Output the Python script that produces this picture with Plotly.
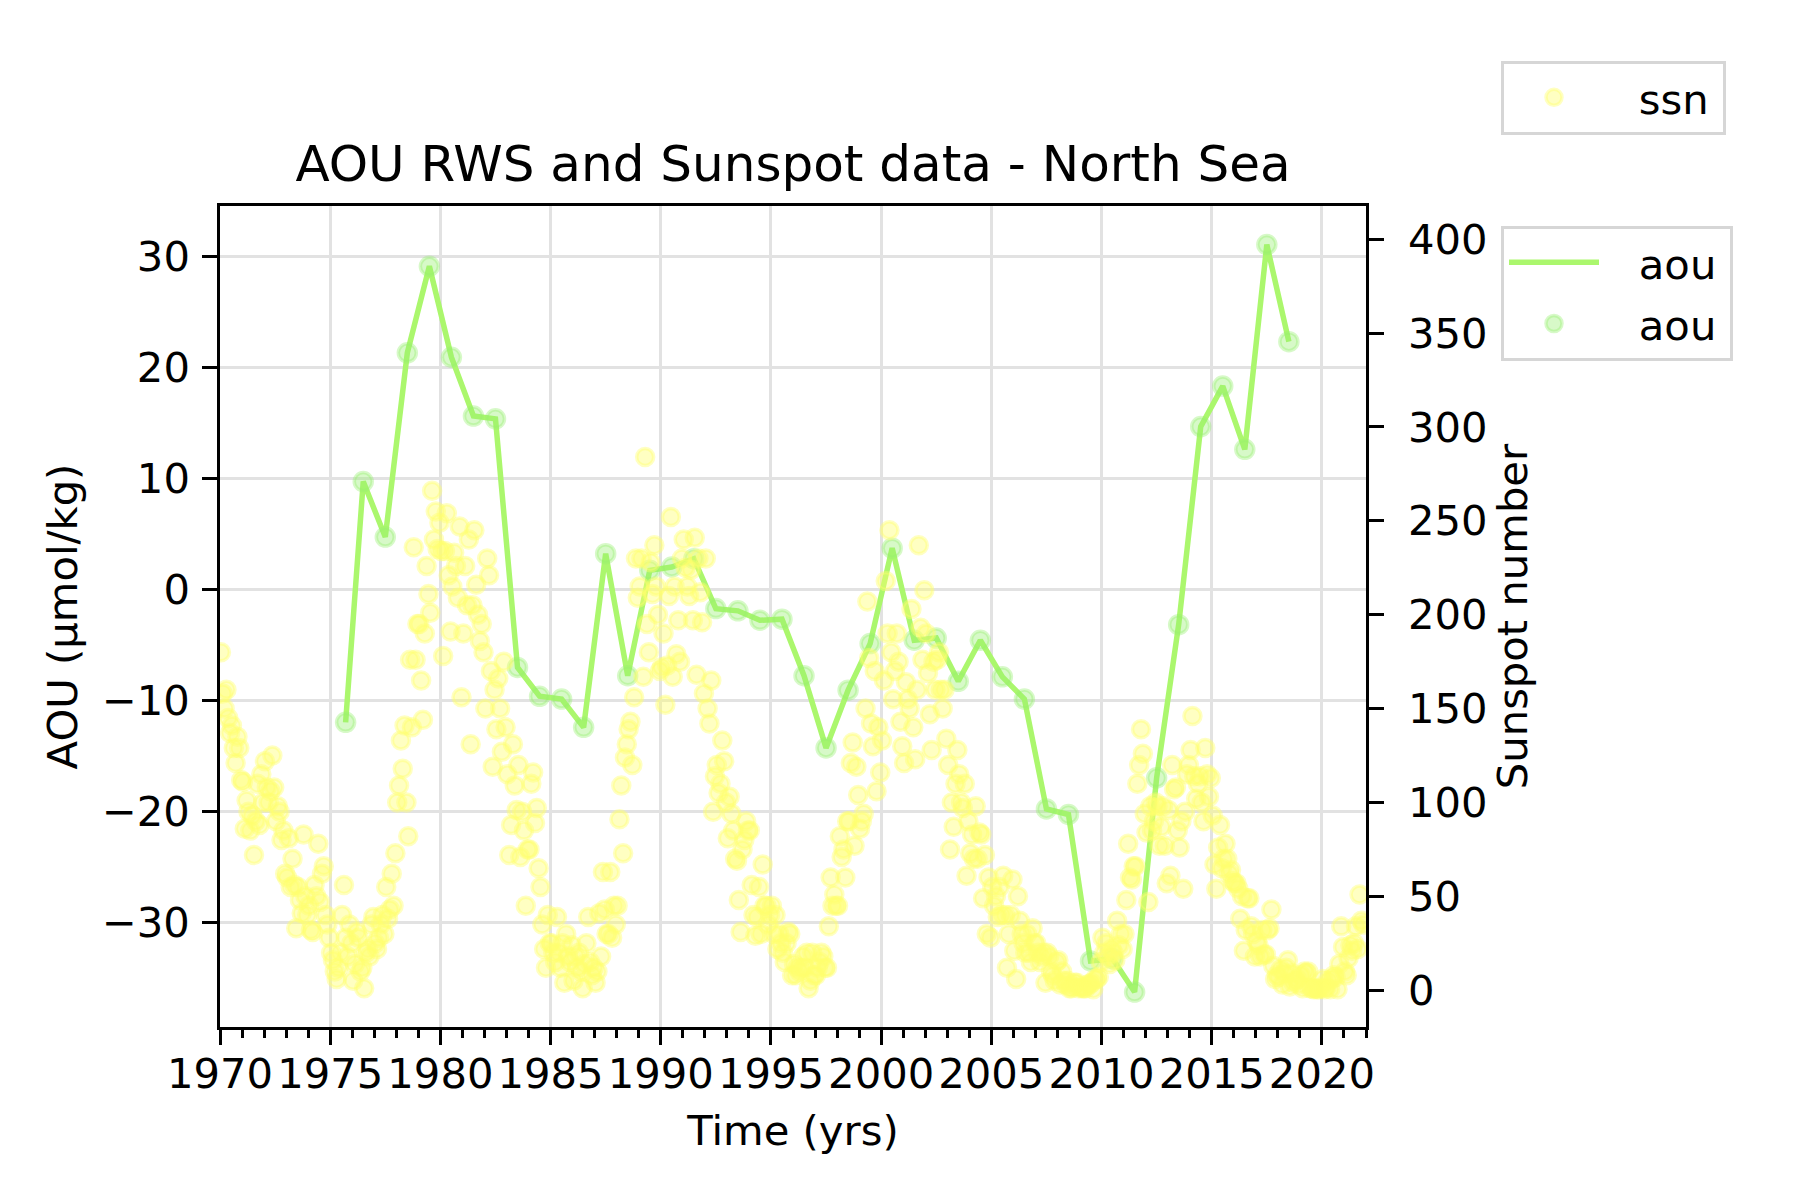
import numpy as np
import plotly.graph_objects as go

# ---------------- data ----------------
aou_years = [1975.7, 1976.5, 1977.5, 1978.5, 1979.5, 1980.5, 1981.5, 1982.5, 1983.5, 1984.5,
             1985.5, 1986.5, 1987.5, 1988.5, 1989.5, 1990.5, 1991.5, 1992.5, 1993.5, 1994.5,
             1995.5, 1996.5, 1997.5, 1998.5, 1999.5, 2000.5, 2001.5, 2002.5, 2003.5, 2004.5,
             2005.5, 2006.5, 2007.5, 2008.5, 2009.5, 2010.5, 2011.5, 2012.5, 2013.5, 2014.5,
             2015.5, 2016.5, 2017.5, 2018.5]
aou_values = [-12.0, 9.7, 4.7, 21.3, 29.1, 20.9, 15.6, 15.35, -7.05, -9.65,
              -9.9, -12.45, 3.2, -7.8, 1.7, 2.0, 2.75, -1.75, -1.95, -2.8,
              -2.7, -7.8, -14.3, -9.1, -4.9, 3.7, -4.6, -4.4, -8.3, -4.6,
              -7.9, -9.9, -19.8, -20.3, -33.5, -33.3, -36.3, -17.0, -3.2, 14.65,
              18.3, 12.6, 31.05, 22.3]

# monthly sunspot number, starting January 1970
ssn_start_year = 1970
ssn_monthly = [
    180, 158, 150, 160, 145, 137, 141, 129, 121, 135, 129, 112,   # 1970
    111, 86, 101, 95, 85, 93, 72, 90, 110, 88, 115, 100,          # 1971
    122, 108, 100, 106, 125, 108, 90, 98, 95, 80, 85, 62,         # 1972
    60, 81, 55, 70, 56, 33, 55, 48, 41, 83, 50, 40,               # 1973
    45, 32, 31, 56, 50, 78, 47, 62, 66, 40, 35, 28,               # 1974
    20, 16, 10, 6, 12, 20, 40, 56, 28, 18, 35, 25,                # 1975
    5, 14, 31, 28, 10, 12, 1, 20, 22, 18, 35, 39,                 # 1976
    25, 22, 28, 35, 40, 30, 55, 38, 43, 62, 45, 73,               # 1977
    100, 109, 133, 118, 141, 100, 82, 176, 140, 236, 176, 195,    # 1978
    195, 165, 144, 190, 226, 211, 201, 266, 240, 255, 235, 249,   # 1979
    234, 178, 234, 254, 221, 191, 215, 233, 226, 209, 247, 156,   # 1980
    190, 226, 205, 240, 131, 205, 245, 216, 200, 186, 195, 180,   # 1981
    150, 230, 221, 170, 119, 160, 139, 166, 150, 127, 175, 140,   # 1982
    115, 72, 88, 131, 109, 96, 120, 71, 95, 85, 45, 75,           # 1983
    75, 110, 116, 89, 97, 65, 55, 35, 22, 12, 40, 25,             # 1984
    25, 20, 15, 39, 20, 12, 25, 4, 30, 18, 15, 24,                # 1985
    5, 18, 12, 20, 10, 1, 14, 25, 39, 15, 8, 12,                  # 1986
    4, 10, 41, 18, 63, 43, 30, 30, 63, 28, 45, 35,                # 1987
    45, 91, 109, 73, 124, 131, 139, 143, 120, 156, 230, 209,      # 1988
    215, 230, 167, 284, 195, 180, 228, 211, 237, 215, 200, 170,   # 1989
    172, 190, 152, 173, 210, 252, 167, 215, 179, 197, 175, 230,   # 1990
    240, 225, 215, 210, 224, 197, 241, 168, 230, 212, 196, 158,   # 1991
    230, 150, 142, 165, 95, 114, 120, 105, 110, 133, 122, 100,    # 1992
    81, 103, 94, 85, 70, 69, 48, 31, 75, 80, 90, 85,              # 1993
    85, 56, 40, 29, 39, 55, 30, 67, 45, 45, 35, 40,               # 1994
    45, 30, 40, 22, 30, 25, 20, 15, 25, 31, 30, 8,                # 1995
    14, 8, 12, 10, 12, 18, 12, 20, 1, 5, 20, 8,                   # 1996
    8, 12, 15, 20, 18, 12, 12, 34, 60, 45, 51, 45,                # 1997
    45, 82, 71, 75, 60, 90, 90, 121, 132, 77, 119, 104,           # 1998
    86, 90, 94, 150, 207, 177, 142, 130, 170, 106, 140, 116,      # 1999
    133, 165, 218, 190, 245, 180, 155, 170, 190, 175, 143, 130,   # 2000
    121, 164, 155, 150, 203, 140, 123, 160, 237, 193, 176, 213,   # 2001
    190, 169, 147, 128, 175, 160, 176, 180, 160, 150, 160, 134,   # 2002
    120, 75, 100, 87, 110, 128, 115, 100, 97, 110, 61, 90,        # 2003
    73, 83, 70, 98, 70, 84, 83, 49, 72, 30, 60, 28,               # 2004
    55, 45, 50, 39, 55, 40, 61, 40, 12, 30, 40, 59,               # 2005
    21, 6, 50, 37, 30, 25, 20, 30, 20, 15, 33, 25,                # 2006
    25, 20, 15, 18, 20, 4, 20, 18, 10, 8, 5, 15,                  # 2007
    16, 3, 10, 5, 3, 5, 1, 1, 2, 4, 4, 1,                         # 2008
    2, 1, 1, 1, 3, 3, 4, 0.5, 6, 6, 7, 15,                        # 2009
    28, 20, 25, 18, 14, 22, 20, 16, 37, 24, 30, 22,               # 2010
    30, 48, 78, 60, 59, 66, 66, 110, 120, 139, 126, 94,           # 2011
    84, 47, 98, 85, 90, 100, 98, 77, 87, 98, 77, 57,              # 2012
    96, 61, 120, 107, 108, 85, 76, 90, 54, 95, 115, 120,          # 2013
    128, 146, 114, 102, 110, 114, 100, 90, 129, 115, 103, 113,    # 2014
    93, 67, 54, 76, 88, 65, 70, 78, 70, 62, 64, 58,               # 2015
    57, 57, 54, 38, 50, 21, 32, 49, 49, 34, 30, 18,               # 2016
    26, 24, 18, 32, 19, 19, 32, 33, 43, 13, 6, 8,                 # 2017
    7, 11, 3, 9, 12, 16, 2, 9, 4, 5, 6, 3,                        # 2018
    8, 1, 10, 9, 10, 1, 1, 0.5, 1, 0.5, 0.5, 1.5,                 # 2019
    6, 0.5, 1.5, 5, 0.5, 6, 8, 7, 0.5, 14, 34, 23,                # 2020
    10, 8, 17, 24, 21, 25, 34, 22, 51, 37, 35,                    # 2021
]
ssn_dates = ssn_start_year + (np.arange(len(ssn_monthly)) + 0.5) / 12.0

x_ticks = [1970, 1975, 1980, 1985, 1990, 1995, 2000, 2005, 2010, 2015, 2020]
aou_ticks = [-30, -20, -10, 0, 10, 20, 30]
ssn_ticks = [0, 50, 100, 150, 200, 250, 300, 350, 400]

# ---------------- style ----------------
FONT = "DejaVu Sans"
FS = 41.7
LINE_GREEN = "#abf76d"
GREEN_A = "rgba(150,240,110,0.38)"
YELLOW_A = "rgba(255,255,110,0.42)"
AXW = 3.3
TICKLEN = 14.6
NB = "\u00a0\u00a0\u2009"
NE = "\u2009"

fig = go.Figure()
fig.add_trace(go.Scatter(x=aou_years, y=aou_values, mode="lines", name=NB + "aou" + NE,
                         line=dict(color=LINE_GREEN, width=5.5), showlegend=True,
                         legend="legend2", legendgroup="aline"))
fig.add_trace(go.Scatter(x=aou_years, y=aou_values, mode="markers", name=NB + "aou" + NE,
                         marker=dict(size=18, color=GREEN_A, line=dict(color=GREEN_A, width=3.5)),
                         showlegend=True, legend="legend2", legendgroup="amark"))
fig.add_trace(go.Scatter(x=ssn_dates, y=ssn_monthly, mode="markers", name=NB + "ssn" + NE, yaxis="y2",
                         marker=dict(size=17, color=YELLOW_A, line=dict(color=YELLOW_A, width=3.5)),
                         showlegend=True, legend="legend"))

axis_common = dict(
    showline=True, linecolor="black", linewidth=AXW,
    ticks="outside", ticklen=TICKLEN, tickwidth=AXW, tickcolor="black",
    tickfont=dict(family=FONT, size=FS, color="black"),
    zeroline=False,
)

fig.update_layout(
    width=1800, height=1200,
    showlegend=True,
    paper_bgcolor="white", plot_bgcolor="white",
    margin=dict(l=220, r=433.5, t=205.5, b=172.5, autoexpand=False),
    font=dict(family=FONT, size=FS, color="black"),
    title=dict(text="AOU RWS and Sunspot data - North Sea",
               font=dict(family=FONT, size=50, color="black"),
               x=0.5, xref="paper", xanchor="center",
               y=1, yref="paper", yanchor="bottom", pad=dict(b=25)),
    xaxis=dict(range=[1970, 2022], tickvals=x_ticks, ticktext=[str(t) for t in x_ticks],
               mirror=True, showgrid=True, gridcolor="#e2e2e2", gridwidth=2.5,
               minor=dict(dtick=1, tick0=1970, ticks="outside", ticklen=8.3, tickwidth=2.5,
                          tickcolor="black", showgrid=False),
               ticklabelstandoff=-7,
               title=dict(text="Time (yrs)", font=dict(family=FONT, size=FS), standoff=20),
               **axis_common),
    yaxis=dict(range=[-39.45, 34.53], tickvals=aou_ticks, showgrid=True,
               gridcolor="#e2e2e2", gridwidth=2.5, ticklabelstandoff=4,
               title=dict(text="AOU (µmol/kg)", font=dict(family=FONT, size=FS), standoff=12),
               **axis_common),
    yaxis2=dict(range=[-19.6, 417.7], tickvals=ssn_ticks, overlaying="y", side="right",
                showgrid=False, ticklabelstandoff=16,
                title=dict(text="Sunspot number", font=dict(family=FONT, size=FS), standoff=8),
                **axis_common),
    legend=dict(x=1.1178, y=1.177, xanchor="left", yanchor="top",
                bgcolor="white", bordercolor="#d6d6d6", borderwidth=3,
                font=dict(family=FONT, size=FS), itemwidth=90),
    legend2=dict(x=1.1178, y=0.976, xanchor="left", yanchor="top",
                 bgcolor="white", bordercolor="#d6d6d6", borderwidth=3,
                 font=dict(family=FONT, size=FS), itemwidth=90,
                 traceorder="grouped", tracegroupgap=4),
)

fig.write_html("out.html", config={"displayModeBar": False},
               post_script="document.body.style.margin='0px';")
